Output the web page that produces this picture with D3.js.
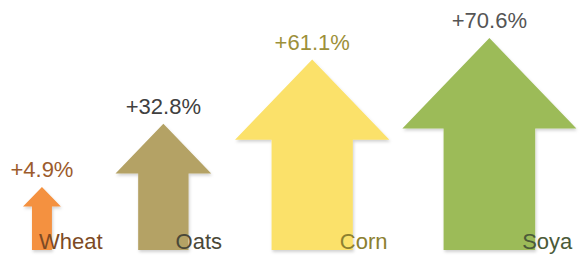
<!DOCTYPE html>
<html>
<head>
<meta charset="utf-8">
<script src="https://cdn.jsdelivr.net/npm/d3@7"></script>
<style>
  html, body { margin: 0; padding: 0; background: #fff; }
</style>
</head>
<body>
<div id="chart"></div>
<script>
// data
const crops = ["Wheat", "Oats", "Corn", "Soya"];
const growth = [4.9, 32.8, 61.1, 70.6]; // % change
const valueLabels = ["+4.9%", "+32.8%", "+61.1%", "+70.6%"];

// styles, one per crop
const fills = ["#f4913f", "#b4a265", "#fbe16b", "#9cbb59"];
const valueColors = ["#9c5b2c", "#404040", "#9d903a", "#555555"];
const nameColors = ["#7d4a24", "#4a4838", "#8c8030", "#4b5a38"];

let settings = {
  width: 585,
  height: 255,
  base: 250, // bottom of the arrows
  left: 23, // left edge of first arrow head
  gap: 13, // space between slots
  fontSize: 22,
  font: "'Liberation Sans', Arial, sans-serif",
  id: "#chart",
};

function arrowPath(cx, tip, bottom, shaft, head, headH) {
  const p = d3.path();
  p.moveTo(cx, tip);
  p.lineTo(cx + head / 2, tip + headH);
  p.lineTo(cx + shaft / 2, tip + headH);
  p.lineTo(cx + shaft / 2, bottom);
  p.lineTo(cx - shaft / 2, bottom);
  p.lineTo(cx - shaft / 2, tip + headH);
  p.lineTo(cx - head / 2, tip + headH);
  p.closePath();
  return p.toString();
}

function draw(conf) {
  const svg = d3.create("svg")
    .attr("width", conf.width)
    .attr("height", conf.height)
    .attr("viewBox", [0, 0, conf.width, conf.height])
    .style("display", "block")
    .style("font-family", conf.font);
  // attach first so text can be measured
  d3.select(conf.id).node().append(svg.node());

  const defs = svg.append("defs");
  defs.append("filter").attr("id", "shadow")
    .attr("x", "-10%").attr("y", "-10%").attr("width", "130%").attr("height", "130%")
    .append("feDropShadow")
    .attr("dx", 1).attr("dy", 2).attr("stdDeviation", 1.5)
    .attr("flood-color", "#000").attr("flood-opacity", 0.18);

  // arrow length and thickness grow with the value
  const yLen = d3.scaleLinear([0, 70.6], [52, 212]);
  const shaftW = d3.scaleLinear([0, 70.6], [14.6, 91.6]);

  // measure names so that each slot fits its label
  const probe = svg.append("text").style("font-size", conf.fontSize + "px");
  const nameW = crops.map(c => { probe.text(c); return probe.node().getComputedTextLength(); });
  probe.remove();

  const I = d3.range(crops.length);
  let left = conf.left;
  const items = I.map(i => {
    const s = shaftW(growth[i]);
    const head = s * 1.9;
    const cx = left + head / 2;
    const tip = conf.base - yLen(growth[i]);
    const nameX = cx + s / 2 - 13;
    const right = Math.max(left + head, nameX + nameW[i]);
    left = right + conf.gap;
    return {i, cx, tip, s, head, headH: head * 0.52, nameX};
  });

  const g = svg.selectAll("g.crop").data(items).join("g").attr("class", "crop");

  g.append("path")
    .attr("d", d => arrowPath(d.cx, d.tip, conf.base, d.s, d.head, d.headH))
    .attr("fill", d => fills[d.i])
    .attr("filter", "url(#shadow)");

  g.append("text")
    .attr("x", d => d.cx)
    .attr("y", d => d.tip - 10)
    .attr("text-anchor", "middle")
    .style("font-size", conf.fontSize + "px")
    .attr("fill", d => valueColors[d.i])
    .text(d => valueLabels[d.i]);

  g.append("text")
    .attr("x", d => d.nameX)
    .attr("y", conf.base - 1)
    .style("font-size", conf.fontSize + "px")
    .attr("fill", d => nameColors[d.i])
    .text(d => crops[d.i]);
}

draw(settings);
</script>
</body>
</html>
